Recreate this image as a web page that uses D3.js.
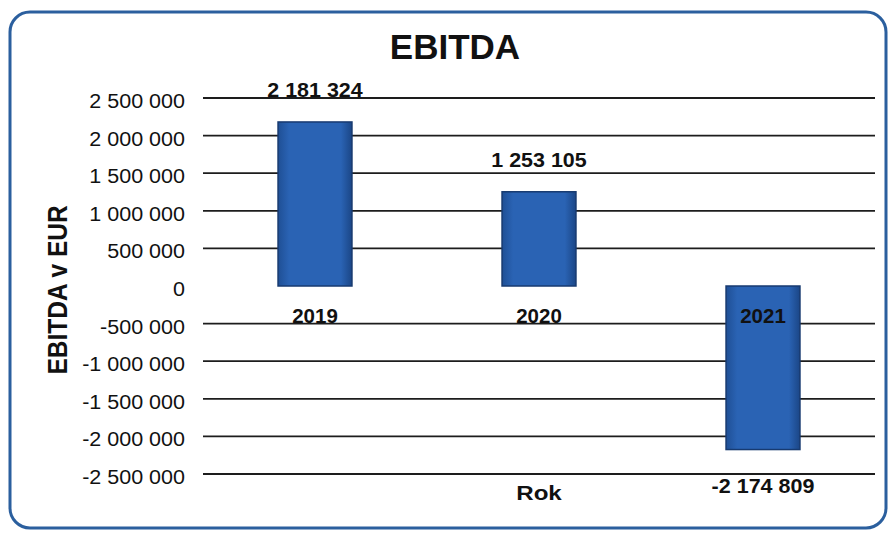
<!DOCTYPE html>
<html><head><meta charset="utf-8">
<script src="https://cdn.jsdelivr.net/npm/d3@7"></script>
<style>body{margin:0;background:#fff}svg{display:block}text{font-family:"Liberation Sans",Arial,sans-serif;fill:#111}</style>
</head><body>
<svg id="c" width="894" height="533"></svg>
<script>
const categories = ["2019", "2020", "2021"];
const values = [2181324, 1253105, -2174809];
const tickValues = [2500000, 2000000, 1500000, 1000000, 500000, 0, -500000, -1000000, -1500000, -2000000, -2500000];
const chartTitle = "EBITDA";
const yTitle = "EBITDA v EUR";
const xTitle = "Rok";

const svg = d3.select("#c");
const fmt = v => (v < 0 ? "-" : "") + d3.format(",")(Math.abs(v)).replace(/,/g, " ");

function txt(g, x, y, s, size, weight, anchor, sx) {
  return g.append("text")
    .attr("transform", `translate(${x},${y}) scale(${sx || 1},1)`)
    .attr("text-anchor", anchor || "middle")
    .attr("font-size", size).attr("font-weight", weight || "normal")
    .text(s);
}

// frame
svg.append("rect").attr("x", 10).attr("y", 12).attr("width", 876).attr("height", 516)
  .attr("rx", 20).attr("fill", "none").attr("stroke", "#2b5f9e").attr("stroke-width", 3);

const left = 203, right = 875;
const y = d3.scaleLinear().domain([-2500000, 2500000]).range([474, 98]);
const x = d3.scaleBand().domain(categories).range([left, right]).paddingInner(0.67).paddingOuter(0.335);

// gridlines (no zero line)
svg.append("g").selectAll("line").data(tickValues.filter(v => v !== 0)).join("line")
  .attr("x1", left).attr("x2", right)
  .attr("y1", d => y(d)).attr("y2", d => y(d))
  .attr("stroke", "#1d1d1d").attr("stroke-width", 1.8);

// tick labels
const tg = svg.append("g");
tickValues.forEach(v => txt(tg, 185, y(v) + 10, fmt(v), 20.5, "normal", "end", 1.05));

// bars
const grad = svg.append("defs").append("linearGradient").attr("id", "bg").attr("x1", 0).attr("x2", 1);
grad.append("stop").attr("offset", 0).attr("stop-color", "#1f4f95");
grad.append("stop").attr("offset", 0.15).attr("stop-color", "#2a63b4");
grad.append("stop").attr("offset", 0.85).attr("stop-color", "#2a63b4");
grad.append("stop").attr("offset", 1).attr("stop-color", "#1b4686");

svg.append("g").selectAll("rect").data(values).join("rect")
  .attr("x", (d, i) => x(categories[i]))
  .attr("width", x.bandwidth())
  .attr("y", d => y(Math.max(0, d)))
  .attr("height", d => Math.abs(y(d) - y(0)))
  .attr("fill", "url(#bg)").attr("stroke", "#173a70").attr("stroke-width", 1.5);

// value labels
const lg = svg.append("g");
values.forEach((v, i) => {
  const cx = x(categories[i]) + x.bandwidth() / 2;
  if (v >= 0) txt(lg, cx, y(v) - 25, fmt(v), 19.5, "bold", "middle", 1.1);
  else txt(lg, cx, y(v) + 43, fmt(v), 20.5, "bold", "middle", 1.05);
});

// category labels
const cg = svg.append("g");
categories.forEach(c => {
  const cx = x(c) + x.bandwidth() / 2;
  txt(cg, cx, 323, c, 20.5, "bold", "middle", 1.0);
});

// titles
txt(svg, 455, 59, chartTitle, 35, "bold");
txt(svg, 539, 500, xTitle, 21, "bold", "middle", 1.15);
svg.append("text").attr("transform", "translate(67,290) rotate(-90) scale(1,1.15)")
  .attr("text-anchor", "middle").attr("font-size", 24.5).attr("font-weight", "bold").text(yTitle);
</script>
</body></html>
